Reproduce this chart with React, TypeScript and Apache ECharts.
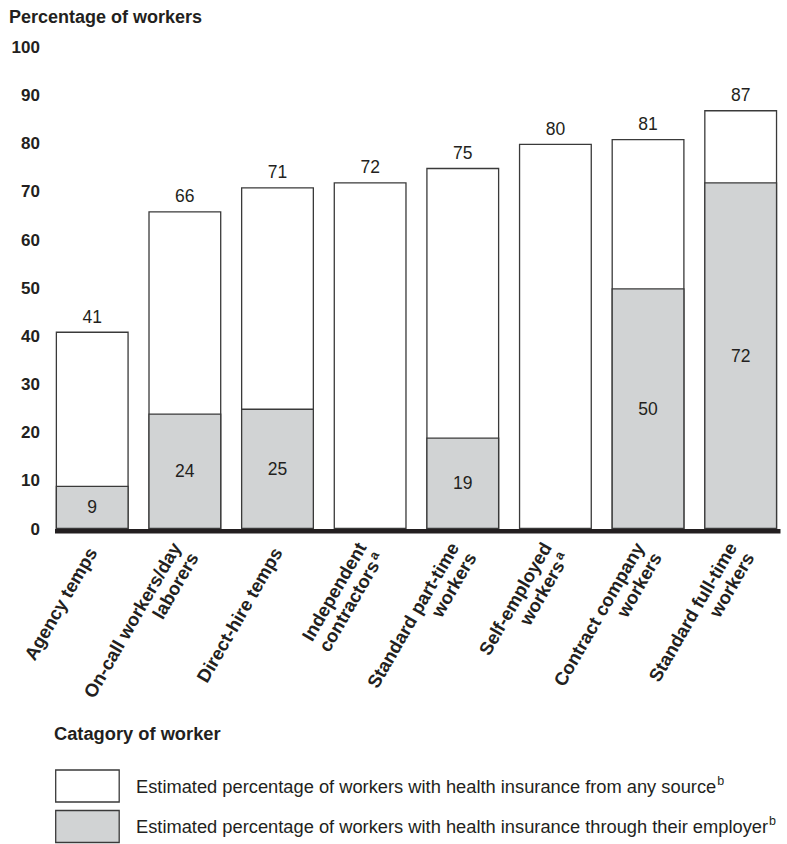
import React, { useEffect, useRef } from "react";
import * as echarts from "echarts";

const categories = [
  "Agency temps",
  "On-call workers/day\nlaborers",
  "Direct-hire temps",
  "Independent\ncontractors",
  "Standard part-time\nworkers",
  "Self-employed\nworkers",
  "Contract company\nworkers",
  "Standard full-time\nworkers",
];
const footnotes = ["", "", "", "a", "", "a", "", ""];
const anySource = [41, 66, 71, 72, 75, 80, 81, 87];
const employer: (number | null)[] = [9, 24, 25, null, 19, null, 50, 72];
const yMin = 0;
const yMax = 100;
const yStep = 10;

const seriesNames = [
  "Estimated percentage of workers with health insurance from any source",
  "Estimated percentage of workers with health insurance through their employer",
];
const seriesFootnote = "b";

const FONT = "'Liberation Sans', Arial, Helvetica, sans-serif";
const INK = "#231f20";
const GRAY = "#d1d3d4";
const EDGE = "#3a3a3a";

export default function App() {
  const ref = useRef<HTMLDivElement>(null);
  useEffect(() => {
    if (!ref.current) return;
    const chart = echarts.init(ref.current, undefined, { renderer: "svg" });
    const barStyle = { borderColor: EDGE, borderWidth: 1.3 };
    const fills = ["#ffffff", GRAY];
    const legendGraphics: any[] = [];
    seriesNames.forEach((name, i) => {
      const top = 770 + i * 40.5;
      legendGraphics.push({
        type: "rect",
        shape: { x: 55.7, y: top, width: 63.5, height: 32 },
        style: { fill: fills[i], stroke: EDGE, lineWidth: 1.3 },
      });
      legendGraphics.push({
        type: "text",
        x: 136,
        y: top + 16,
        style: {
          text: `{t|${name}}{s|${seriesFootnote}}`,
          verticalAlign: "middle",
          rich: {
            t: { fontFamily: FONT, fontSize: 18.3, fill: INK, lineHeight: 24 },
            s: { fontFamily: FONT, fontSize: 12.5, fill: INK, verticalAlign: "top", lineHeight: 24, padding: [0, 0, 0, 1] },
          },
        },
      });
    });
    chart.setOption({
      animation: false,
      textStyle: { fontFamily: FONT, color: INK },
      title: [
        {
          text: "Percentage of workers",
          left: 9,
          top: 8,
          padding: 0,
          textStyle: { fontFamily: FONT, fontSize: 18, fontWeight: "bold", color: INK },
        },
        {
          text: "Catagory of worker",
          left: 54,
          top: 724,
          padding: 0,
          textStyle: { fontFamily: FONT, fontSize: 18.3, fontWeight: "bold", color: INK },
        },
      ],
      grid: { left: 45.9, top: 47.5, width: 742.9, height: 481.5, containLabel: false },
      xAxis: {
        type: "category",
        data: categories,
        axisLine: { show: false },
        axisTick: { show: false },
        axisLabel: {
          interval: 0,
          rotate: 60,
          margin: 20,
          fontFamily: FONT,
          fontSize: 18.5,
          fontWeight: "bold",
          color: INK,
          lineHeight: 20,
          formatter: (value: string, index: number) => {
            const lines = value.split("\n");
            const fn = footnotes[index];
            return lines
              .map((l, i) => (i === lines.length - 1 && fn ? `{b|${l}}{s|${fn}}` : `{b|${l}}`))
              .join("\n");
          },
          rich: {
            b: { fontFamily: FONT, fontSize: 18.5, fontWeight: "bold", color: INK, lineHeight: 20 },
            s: { fontFamily: FONT, fontSize: 13, color: INK, verticalAlign: "top", lineHeight: 20, padding: [0, 0, 0, 2] },
          },
        },
      },
      yAxis: {
        type: "value",
        min: yMin,
        max: yMax,
        interval: yStep,
        axisLine: { show: false },
        axisTick: { show: false },
        splitLine: { show: false },
        axisLabel: {
          margin: 6,
          fontFamily: FONT,
          fontSize: 17,
          fontWeight: "bold",
          color: INK,
        },
      },
      series: [
        {
          name: seriesNames[0],
          type: "bar",
          data: anySource,
          barWidth: 73,
          barGap: "-100%",
          itemStyle: { color: "#ffffff", ...barStyle },
          label: {
            show: true,
            position: "top",
            distance: 6,
            fontFamily: FONT,
            fontSize: 17.5,
            color: INK,
          },
          z: 2,
        },
        {
          name: seriesNames[1],
          type: "bar",
          data: employer,
          barWidth: 73,
          barGap: "-100%",
          itemStyle: { color: GRAY, ...barStyle },
          label: {
            show: true,
            position: "inside",
            fontFamily: FONT,
            fontSize: 17.5,
            color: INK,
          },
          z: 3,
        },
      ],
      graphic: [
        {
          type: "rect",
          shape: { x: 55, y: 529, width: 725.5, height: 4.5 },
          style: { fill: "#231f20" },
          z: 10,
        },
        ...legendGraphics,
      ],
    });
    return () => chart.dispose();
  }, []);
  return (
    <div
      ref={ref}
      style={{ position: "absolute", left: 0, top: 0, width: 787, height: 844 }}
    />
  );
}
